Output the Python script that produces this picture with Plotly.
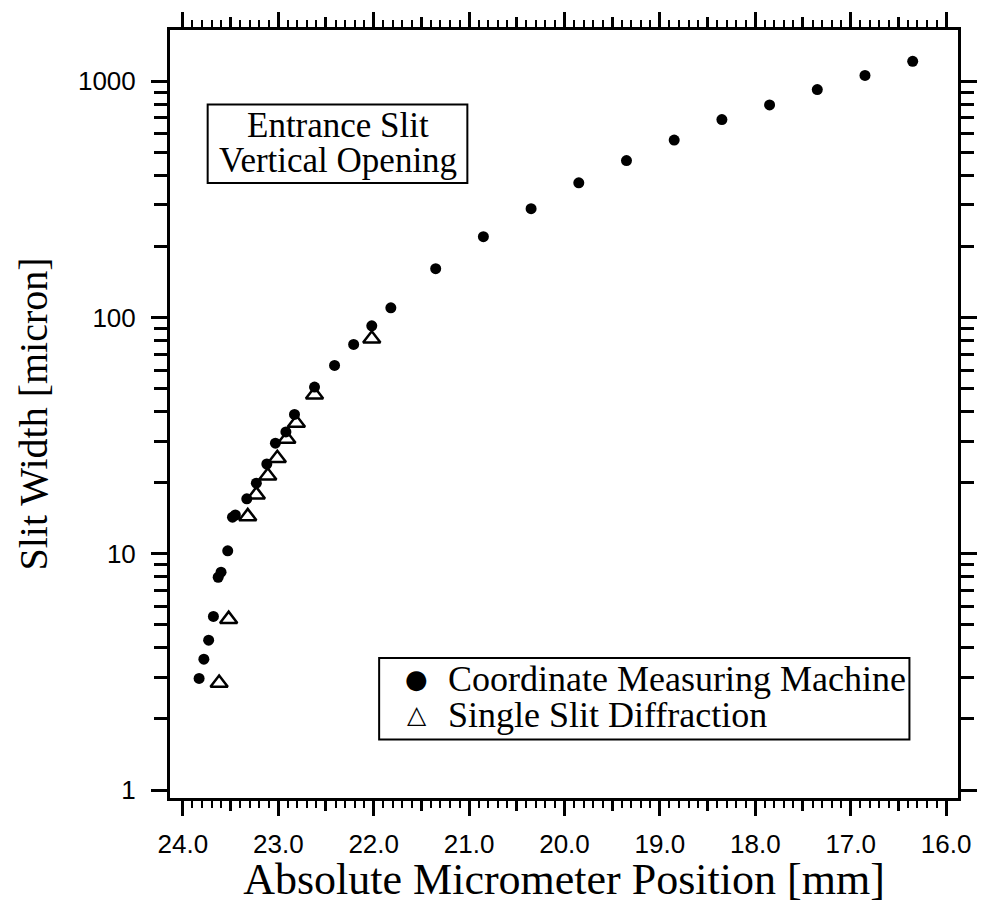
import plotly.graph_objects as go

# ---- data ----
# Coordinate Measuring Machine (filled circles)
cmm_position = [23.83, 23.78, 23.73, 23.68, 23.63, 23.60, 23.53, 23.48, 23.45,
                23.33, 23.23, 23.12, 23.03, 22.92, 22.83, 22.62, 22.41, 22.21,
                22.02, 21.82, 21.35, 20.85, 20.35, 19.85, 19.35, 18.85, 18.35,
                17.85, 17.35, 16.85, 16.35]
cmm_width = [2.97, 3.58, 4.31, 5.43, 7.96, 8.36, 10.3, 14.3, 14.6,
             17.1, 19.9, 24.0, 29.4, 32.8, 38.9, 50.8, 62.7, 77.0,
             92.3, 110, 161, 220, 289, 372, 462, 564, 689,
             795, 923, 1060, 1216]

# Single Slit Diffraction (open triangles)
ssd_position = [23.62, 23.52, 23.32, 23.23, 23.11, 23.01, 22.91, 22.81, 22.62, 22.02]
ssd_width = [2.84, 5.29, 14.4, 17.8, 21.4, 25.4, 30.6, 35.8, 47.1, 81.3]

series_names = ["Coordinate Measuring Machine", "Single Slit Diffraction"]

# tick labels
x_tick_vals = [24.0, 23.0, 22.0, 21.0, 20.0, 19.0, 18.0, 17.0, 16.0]
x_tick_text = ["24.0", "23.0", "22.0", "21.0", "20.0", "19.0", "18.0", "17.0", "16.0"]
y_tick_vals = [1, 10, 100, 1000]
y_tick_text = ["1", "10", "100", "1000"]

# tick positions (every 0.1 mm; labels only on whole millimetres)
x_tenth = [round(16 + i / 10, 1) for i in range(81)]
x_tenth_text = [x_tick_text[x_tick_vals.index(v)] if v in x_tick_vals else "" for v in x_tenth]
x_half = [v + 0.5 for v in range(16, 24)]
y_minor = [m * 10 ** e for e in range(0, 4) for m in range(2, 10)]

XR = [24.135, 15.875]
YR = [-0.0336, 3.2174]

serif = "Liberation Serif, Times New Roman, serif"
sans = "Liberation Sans, Arial, sans-serif"

fig = go.Figure()
fig.add_trace(go.Scatter(
    x=ssd_position, y=ssd_width, mode="markers", name=series_names[1],
    showlegend=False,
    marker=dict(symbol="triangle-up", size=15, color="white",
                line=dict(color="black", width=2.5))))
fig.add_trace(go.Scatter(
    x=cmm_position, y=cmm_width, mode="markers", name=series_names[0],
    showlegend=False,
    marker=dict(symbol="circle", size=11, color="black", line=dict(width=0))))
# empty traces that activate the overlay axes carrying the longer ticks
fig.add_trace(go.Scatter(x=[None], y=[None], xaxis="x2", showlegend=False, hoverinfo="skip"))
fig.add_trace(go.Scatter(x=[None], y=[None], xaxis="x3", showlegend=False, hoverinfo="skip"))

overlay_common = dict(range=XR, overlaying="x", anchor="y", side="bottom",
                      tickmode="array", ticks="outside", tickcolor="black",
                      showticklabels=False, showline=False, mirror="ticks",
                      showgrid=False, zeroline=False)

fig.update_layout(
    width=989, height=904,
    margin=dict(l=170, r=24, t=30, b=101),
    paper_bgcolor="white", plot_bgcolor="white",
    showlegend=False,
    xaxis=dict(
        range=XR, tickmode="array", tickvals=x_tenth, ticktext=x_tenth_text,
        ticks="outside", ticklen=7, tickwidth=2, tickcolor="black",
        showline=True, linewidth=3, linecolor="black", mirror="ticks",
        showgrid=False, zeroline=False,
        tickfont=dict(family=sans, size=26, color="black"),
        ticklabelstandoff=14,
        title=dict(text="Absolute Micrometer Position [mm]",
                   font=dict(family=serif, size=44, color="black"), standoff=2),
    ),
    xaxis2=dict(tickvals=x_half, ticklen=12, tickwidth=2.5, **overlay_common),
    xaxis3=dict(tickvals=x_tick_vals, ticklen=17, tickwidth=2.5, **overlay_common),
    yaxis=dict(
        type="log", range=YR, tickmode="array", tickvals=y_tick_vals, ticktext=y_tick_text,
        ticks="outside", ticklen=16, tickwidth=2.5, tickcolor="black",
        showline=True, linewidth=3, linecolor="black", mirror="ticks",
        showgrid=False, zeroline=False,
        tickfont=dict(family=sans, size=26, color="black"),
        ticklabelstandoff=10,
        minor=dict(tickmode="array", tickvals=y_minor, ticks="outside", ticklen=13,
                   tickwidth=2.5, tickcolor="black", showgrid=False),
        title=dict(text="Slit Width [micron]",
                   font=dict(family=serif, size=40, color="black"), standoff=18),
    ),
)

def px_x(px):
    return (px - 170) / 795

def px_y(py):
    return (803 - py) / 773

# boxed label "Entrance Slit / Vertical Opening"
fig.add_shape(type="rect", xref="paper", yref="paper",
              x0=px_x(208), x1=px_x(470), y0=px_y(184), y1=px_y(105),
              line=dict(color="black", width=2), fillcolor="white", layer="above")
fig.add_annotation(xref="paper", yref="paper", x=px_x(339), y=px_y(126),
                   text="Entrance Slit", showarrow=False, xanchor="center", yanchor="middle",
                   font=dict(family=serif, size=35, color="black"))
fig.add_annotation(xref="paper", yref="paper", x=px_x(339), y=px_y(161),
                   text="Vertical Opening", showarrow=False, xanchor="center", yanchor="middle",
                   font=dict(family=serif, size=35, color="black"))

# legend box
fig.add_shape(type="rect", xref="paper", yref="paper",
              x0=px_x(381), x1=px_x(916), y0=px_y(744), y1=px_y(662),
              line=dict(color="black", width=2), fillcolor="white", layer="above")
legend_symbols = ["\u25cf", "\u25b3"]
legend_rows = [683, 719]
legend_sym_size = [26, 25]
for sym, name, row, ss in zip(legend_symbols, series_names, legend_rows, legend_sym_size):
    fig.add_annotation(xref="paper", yref="paper", x=px_x(419), y=px_y(row),
                       text=sym, showarrow=False, xanchor="center", yanchor="middle",
                       font=dict(family="DejaVu Sans", size=ss, color="black"))
    fig.add_annotation(xref="paper", yref="paper", x=px_x(448), y=px_y(row),
                       text=name, showarrow=False, xanchor="left", yanchor="middle",
                       font=dict(family=serif, size=36, color="black"))

fig.write_html("out.html")
